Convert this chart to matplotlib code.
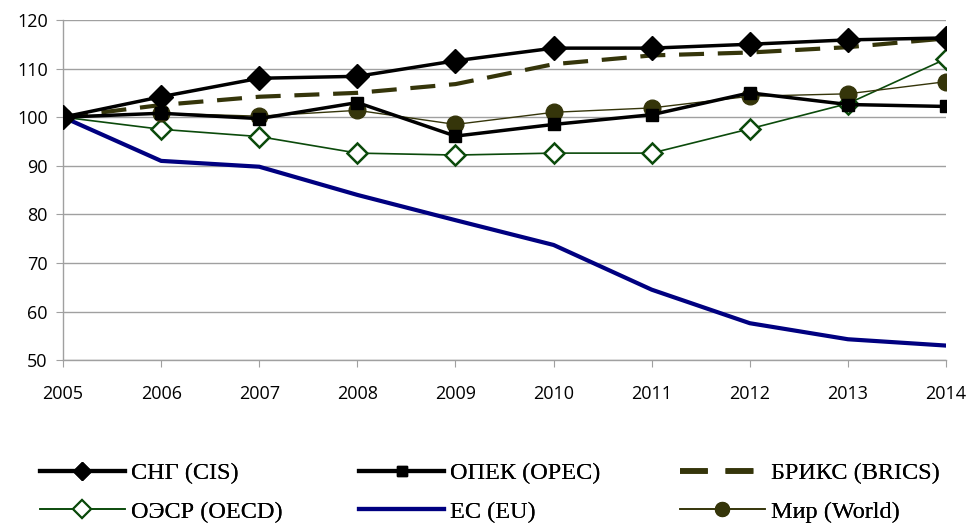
import matplotlib
matplotlib.use("Agg")
import matplotlib.pyplot as plt
from matplotlib.lines import Line2D

years = [2005, 2006, 2007, 2008, 2009, 2010, 2011, 2012, 2013, 2014]
cis = [100, 104.2, 108.0, 108.4, 111.6, 114.2, 114.2, 115.0, 115.9, 116.3]
opec = [100, 100.8, 99.7, 103.0, 96.1, 98.5, 100.5, 105.0, 102.6, 102.2]
brics = [100, 102.5, 104.2, 105.0, 106.8, 110.9, 112.7, 113.3, 114.4, 116.2]
oecd = [100, 97.5, 96.0, 92.6, 92.2, 92.6, 92.6, 97.6, 102.8, 112.0]
eu = [100, 91.0, 89.8, 84.0, 78.8, 73.7, 64.5, 57.6, 54.3, 53.0]
world = [100, 100.8, 100.2, 101.4, 98.5, 101.0, 101.9, 104.3, 104.8, 107.3]

labels = ["СНГ (CIS)", "ОПЕК (OPEC)", "БРИКС (BRICS)",
          "ОЭСР (OECD)", "ЕС (EU)", "Мир (World)"]
yticks = [50, 60, 70, 80, 90, 100, 110, 120]

fig = plt.figure(figsize=(9.71, 5.25), dpi=100)
ax = fig.add_axes([0.0649, 0.314, 0.9094, 0.648])

olive = "#35350a"
green = "#0b4a0b"
navy = "#000080"
ax.plot(years, eu, color=navy, lw=3.0, zorder=2)
ax.plot(years, oecd, color=green, lw=1.2, marker="D", ms=10,
        mfc="white", mec=green, mew=1.8, zorder=3)
ax.plot(years, world, color=olive, lw=1.0, marker="o", ms=12,
        mfc=olive, mec=olive, zorder=4)
ax.plot(years, brics, color=olive, lw=3.0, dashes=(6, 3.3), zorder=3)
ax.plot(years, opec, color="black", lw=2.5, marker="s", ms=8.5, zorder=5)
ax.plot(years, cis, color="black", lw=2.5, marker="D", ms=12, zorder=6)

ax.set_xlim(2005, 2014)
ax.set_ylim(50, 120)
ax.set_xticks(years)
ax.set_yticks(yticks)
ax.grid(axis="y", color="#a0a0a0", lw=1.0)
ax.set_axisbelow(True)
for s in ["top", "right"]:
    ax.spines[s].set_visible(False)
for s in ["left", "bottom"]:
    ax.spines[s].set_color("#a0a0a0")
    ax.spines[s].set_linewidth(1.0)
ax.tick_params(axis="both", colors="#a0a0a0", length=5, labelcolor="black",
               labelsize=13)
ax.tick_params(axis="x", pad=13)
ax.tick_params(axis="y", pad=6)
for t in ax.get_xticklabels() + ax.get_yticklabels():
    t.set_fontfamily("Open Sans")

# legend proxies (smaller markers, like the reference legend)
p_cis = Line2D([], [], color="black", lw=3.0, marker="D", ms=9)
p_opec = Line2D([], [], color="black", lw=3.0, marker="s", ms=6.5)
p_brics = Line2D([], [], color=olive, lw=4.0, dashes=(5, 3.2))
p_oecd = Line2D([], [], color=green, lw=1.2, marker="D", ms=9,
                mfc="white", mec=green, mew=1.5)
p_eu = Line2D([], [], color=navy, lw=3.0)
p_world = Line2D([], [], color=olive, lw=1.2, marker="o", ms=10,
                 mfc=olive, mec=olive)
handles = [p_cis, p_opec, p_brics, p_oecd, p_eu, p_world]
lfont = {"family": "Liberation Serif", "size": 17.5}
xs = [0.041, 0.370, 0.700]
for c in range(3):
    hs = [handles[c], handles[c + 3]]
    ls = [labels[c], labels[c + 3]]
    leg = fig.legend(hs, ls, loc="upper left", bbox_to_anchor=(xs[c], 0.120),
                     frameon=False, prop=lfont, handlelength=3.5,
                     handletextpad=0.25, labelspacing=0.68, borderpad=0,
                     borderaxespad=0)
    fig.add_artist(leg)

fig.savefig("out.png", dpi=100)
